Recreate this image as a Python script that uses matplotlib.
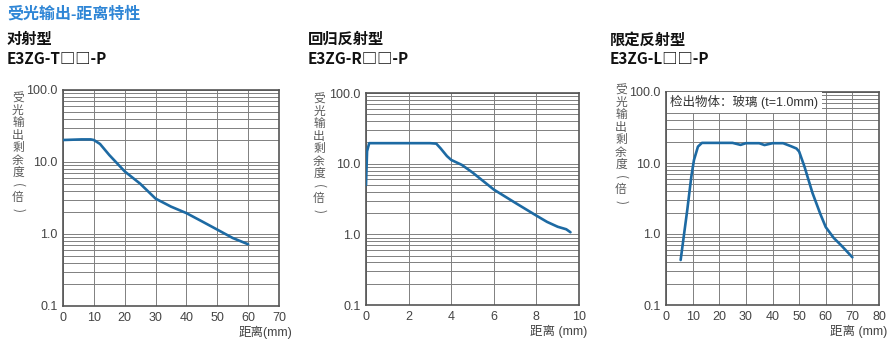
import matplotlib
matplotlib.use("Agg")
import matplotlib.pyplot as plt
from matplotlib.ticker import LogLocator, NullFormatter

plt.rcParams['font.family'] = ['Liberation Sans', 'Noto Sans CJK SC', 'DejaVu Sans']

# data
t_x = [0, 3, 6, 9, 10, 12, 15, 20, 25, 30, 35, 40, 45, 50, 55, 60]
t_y = [20.2, 20.4, 20.6, 20.6, 20.2, 17.8, 12.5, 7.4, 5.0, 3.1, 2.4, 1.95, 1.5, 1.15, 0.88, 0.72]

r_x = [0.0, 0.05, 0.15, 1.0, 2.0, 3.0, 3.3, 3.5, 3.8, 4.0, 4.5, 5.0, 6.0, 7.0, 8.0, 8.5, 9.0, 9.4, 9.6]
r_y = [5.0, 15.0, 19.5, 19.5, 19.5, 19.5, 19.2, 16.5, 12.8, 11.3, 9.6, 7.5, 4.3, 2.8, 1.84, 1.5, 1.28, 1.18, 1.07]

l_x = [5.5, 8, 9.5, 10.5, 12, 13.5, 20, 25, 28, 30, 35, 37, 40, 44, 47, 49, 50, 52, 55, 58, 60, 63, 66, 70]
l_y = [0.43, 2.2, 6.4, 11.0, 17.0, 19.2, 19.2, 19.2, 18.0, 19.0, 19.0, 17.9, 19.0, 19.0, 17.2, 16.0, 14.5, 8.9, 3.8, 1.9, 1.25, 0.88, 0.68, 0.47]

y_ticks = [0.1, 1.0, 10.0, 100.0]
y_labels = ["0.1", "1.0", "10.0", "100.0"]

panels = [
    dict(x=t_x, y=t_y, xlim=70, xticks=list(range(0, 80, 10)), name="对射型", model="E3ZG-T□□-P",
         xlabel="距离(mm)", rect=[63, 90, 216, 216], title_x=7, ylab_x=18, ylab_y=98, xl_off=1.06),
    dict(x=r_x, y=r_y, xlim=10, xticks=list(range(0, 12, 2)), name="回归反射型", model="E3ZG-R□□-P",
         xlabel="距离 (mm)", rect=[366, 93, 213, 212], title_x=308, ylab_x=319, ylab_y=99, xl_off=1.04),
    dict(x=l_x, y=l_y, xlim=80, xticks=list(range(0, 90, 10)), name="限定反射型", model="E3ZG-L□□-P",
         xlabel="距离 (mm)", rect=[666, 92, 213, 213], title_x=610, ylab_x=621, ylab_y=90, xl_off=1.04),
]

W, H = 894, 355
fig = plt.figure(figsize=(W / 100, H / 100), dpi=100)

fig.text(7 / W, 1 - 14 / H, "受光输出-距离特性", color="#2f86d6", fontsize=11.5,
         fontweight="bold", va="center", ha="left")

ylab_chars = list("受光输出剩余度(倍)")
line_color = "#1d6aa3"

for p in panels:
    l, t, w, h = p["rect"]
    ax = fig.add_axes([l / W, 1 - (t + h) / H, w / W, h / H])
    ax.set_yscale("log")
    ax.set_ylim(0.1, 100)
    ax.set_xlim(0, p["xlim"])
    ax.plot(p["x"], p["y"], color=line_color, lw=1.9, solid_capstyle="round", zorder=3)

    ax.set_yticks(y_ticks)
    ax.set_yticklabels(y_labels)
    ax.yaxis.set_minor_locator(LogLocator(base=10, subs=range(2, 10)))
    ax.yaxis.set_minor_formatter(NullFormatter())
    ax.set_xticks(p["xticks"])
    ax.grid(True, which="both", axis="y", color="#808080", lw=0.7)
    ax.grid(True, which="major", axis="x", color="#808080", lw=0.7)
    ax.tick_params(which="both", length=0, labelsize=9, labelcolor="#444444", pad=4)
    for s in ax.spines.values():
        s.set_color("#555555")
        s.set_linewidth(1.2)

    ax.text(p["xl_off"], -20 / h, p["xlabel"], transform=ax.transAxes, ha="right", va="top",
            fontsize=9, color="#444444")

    fig.text(p["title_x"] / W, 1 - 40 / H, p["name"], fontsize=11, fontweight="bold",
             va="center", ha="left", color="#111111")
    fig.text(p["title_x"] / W, 1 - 59 / H, p["model"], fontsize=11, fontweight="bold",
             va="center", ha="left", color="#111111", family=["Noto Sans CJK SC"])

    # vertical axis title, one character per row
    for i, ch in enumerate(ylab_chars):
        rot = -90 if ch in "()" else 0
        fig.text(p["ylab_x"] / W, 1 - (p["ylab_y"] + 12.4 * i) / H, ch, fontsize=8.5,
                 color="#5a5a5a", va="center", ha="center", rotation=rot,
                 rotation_mode="anchor", fontweight="medium", family=["Noto Sans CJK SC"])

    if p["name"] == "限定反射型":
        ax.text(0.02, 0.985, "检出物体：玻璃 (t=1.0mm)", transform=ax.transAxes,
                ha="left", va="top", fontsize=9, color="#333333", zorder=4,
                bbox=dict(facecolor="white", edgecolor="none", pad=2.5))

fig.savefig("out.png", dpi=100)
